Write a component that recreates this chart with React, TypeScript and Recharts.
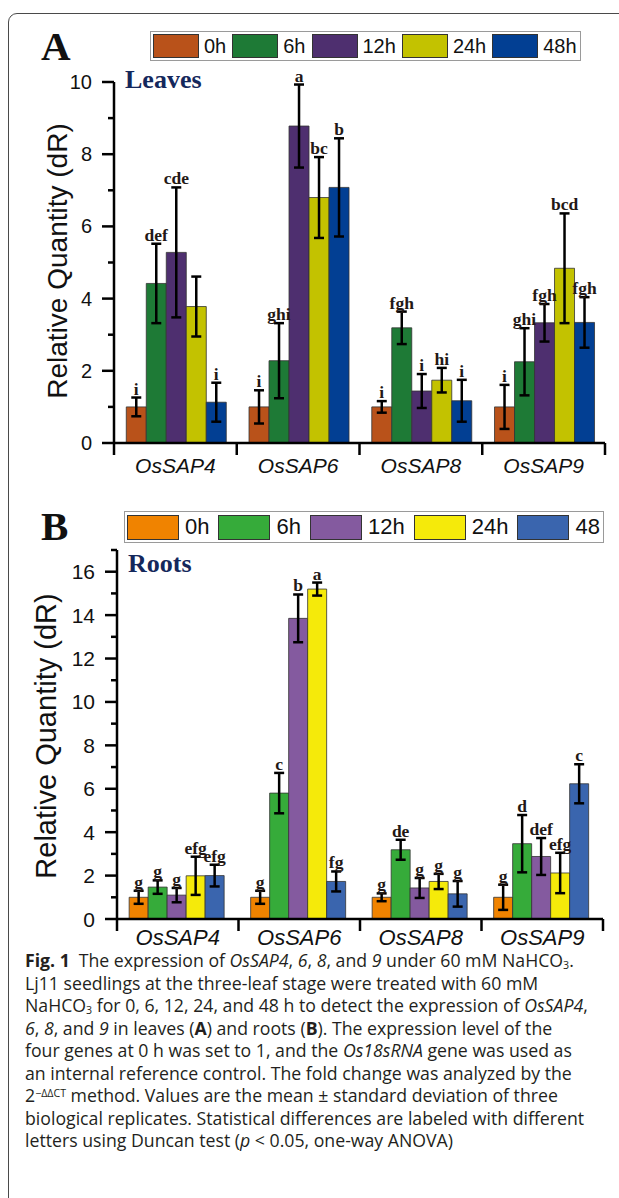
import React from "react";
import { BarChart, Bar, XAxis, YAxis, ErrorBar, LabelList } from "recharts";

const genes = ["OsSAP4", "OsSAP6", "OsSAP8", "OsSAP9"];
const timeKeys = ["t0", "t6", "t12", "t24", "t48"];

// panel A - leaves
const leavesLegend = ["0h", "6h", "12h", "24h", "48h"];
const leavesColors = ["#b9521a", "#1e7a36", "#4e2f6f", "#c3c200", "#023f93"];
const leaves0h = [1.0, 1.0, 1.0, 1.0];
const leaves6h = [4.42, 2.28, 3.19, 2.25];
const leaves12h = [5.28, 8.78, 1.44, 3.33];
const leaves24h = [3.78, 6.8, 1.74, 4.84];
const leaves48h = [1.13, 7.08, 1.17, 3.34];
const leavesErr0h = [0.26, 0.46, 0.16, 0.61];
const leavesErr6h = [1.1, 1.04, 0.45, 0.93];
const leavesErr12h = [1.8, 1.15, 0.47, 0.52];
const leavesErr24h = [0.83, 1.12, 0.34, 1.52];
const leavesErr48h = [0.54, 1.36, 0.58, 0.7];
const leavesLab0h = ["i", "i", "i", "i"];
const leavesLab6h = ["def", "ghi", "fgh", "ghi"];
const leavesLab12h = ["cde", "a", "i", "fgh"];
const leavesLab24h = ["", "bc", "hi", "bcd"];
const leavesLab48h = ["i", "b", "i", "fgh"];
const leavesTicks = [0, 1, 2, 3, 4, 5, 6, 7, 8, 9, 10];

// panel B - roots
const rootsLegend = ["0h", "6h", "12h", "24h", "48"];
const rootsColors = ["#f08300", "#36ab3a", "#845a9f", "#f5ea0a", "#3a65ae"];
const roots0h = [1.0, 1.0, 1.0, 1.0];
const roots6h = [1.47, 5.8, 3.19, 3.47];
const roots12h = [1.1, 13.85, 1.43, 2.88];
const roots24h = [1.99, 15.2, 1.73, 2.12];
const roots48h = [2.0, 1.73, 1.16, 6.23];
const rootsErr0h = [0.3, 0.3, 0.18, 0.58];
const rootsErr6h = [0.31, 0.93, 0.46, 1.32];
const rootsErr12h = [0.33, 1.1, 0.46, 0.85];
const rootsErr24h = [0.88, 0.3, 0.35, 0.93];
const rootsErr48h = [0.5, 0.46, 0.59, 0.9];
const rootsLab0h = ["g", "g", "g", "g"];
const rootsLab6h = ["g", "c", "de", "d"];
const rootsLab12h = ["g", "b", "g", "def"];
const rootsLab24h = ["efg", "a", "g", "efg"];
const rootsLab48h = ["efg", "fg", "g", "c"];
const rootsTicks = [0, 1, 2, 3, 4, 5, 6, 7, 8, 9, 10, 11, 12, 13, 14, 15, 16, 17];

function buildRows(vals: number[][], errs: number[][], labs: string[][]) {
  return genes.map((g, i) => {
    const row: any = { gene: g };
    timeKeys.forEach((k, j) => {
      row[k] = vals[j][i];
      row[k + "Err"] = errs[j][i];
      row[k + "Lab"] = labs[j][i];
    });
    return row;
  });
}

const leavesRows = buildRows(
  [leaves0h, leaves6h, leaves12h, leaves24h, leaves48h],
  [leavesErr0h, leavesErr6h, leavesErr12h, leavesErr24h, leavesErr48h],
  [leavesLab0h, leavesLab6h, leavesLab12h, leavesLab24h, leavesLab48h]
);
const rootsRows = buildRows(
  [roots0h, roots6h, roots12h, roots24h, roots48h],
  [rootsErr0h, rootsErr6h, rootsErr12h, rootsErr24h, rootsErr48h],
  [rootsLab0h, rootsLab6h, rootsLab12h, rootsLab24h, rootsLab48h]
);

const SANS = "'Liberation Sans', Arial, sans-serif";
const SERIF = "'Liberation Serif', 'Times New Roman', serif";

const yTick = (fs: number, labelGap: number) => (p: any) => {
  const { x, y, payload } = p;
  const major = payload.value % 2 === 0;
  return (
    <g>
      <line x1={x - (major ? 12 : 6)} x2={x} y1={y} y2={y} stroke="#000" strokeWidth={2.5} />
      {major && (
        <text x={x - labelGap} y={y} textAnchor="end" dominantBaseline="central" fontSize={fs} fontFamily={SANS} fill="#111">
          {payload.value}
        </text>
      )}
    </g>
  );
};

const xTick = (band: number, fs: number, dy: number) => (p: any) => {
  const { x, y, payload, index } = p;
  return (
    <g>
      <line x1={x - band / 2} x2={x - band / 2} y1={y} y2={y + 12} stroke="#000" strokeWidth={2.5} />
      {index === genes.length - 1 && (
        <line x1={x + band / 2} x2={x + band / 2} y1={y} y2={y + 12} stroke="#000" strokeWidth={2.5} />
      )}
      <text x={x} y={y + dy} textAnchor="middle" fontStyle="italic" fontSize={fs} fontFamily={SANS} fill="#111">
        {payload.value}
      </text>
    </g>
  );
};

const letter = (rows: any[], k: string) => (p: any) => {
  const vb = p.viewBox || p;
  const { x, y, width, height } = vb;
  const row = rows[p.index];
  if (!row || !p.value) return null;
  const perUnit = height / row[k];
  const top = y - row[k + "Err"] * perUnit;
  return (
    <text x={x + width / 2} y={top - 3} textAnchor="middle" fontFamily={SERIF} fontWeight="bold" fontSize={17.5} fill="#231815">
      {p.value}
    </text>
  );
};

function Panel(props: {
  rows: any[];
  colors: string[];
  top: number;
  height: number;
  marginTop: number;
  axisWidth: number;
  marginRight: number;
  xHeight: number;
  domainMax: number;
  ticks: number[];
  tickFs: number;
  catFs: number;
  catDy: number;
  yLabelX: number;
  yLabelY: number;
  yLabelFs: number;
}) {
  const plotW = 619 - props.axisWidth - props.marginRight;
  const band = plotW / genes.length;
  return (
    <div style={{ position: "absolute", left: 0, top: props.top }}>
      <BarChart
        width={619}
        height={props.height}
        data={props.rows}
        margin={{ top: props.marginTop, right: props.marginRight, bottom: 0, left: 0 }}
        barCategoryGap="10%"
        barGap={0}
      >
        <XAxis
          dataKey="gene"
          height={props.xHeight}
          axisLine={{ stroke: "#000", strokeWidth: 2.5 }}
          tickLine={false}
          tickSize={0}
          tickMargin={0}
          interval={0}
          tick={xTick(band, props.catFs, props.catDy)}
        />
        <YAxis
          width={props.axisWidth}
          domain={[0, props.domainMax]}
          ticks={props.ticks}
          interval={0}
          axisLine={{ stroke: "#000", strokeWidth: 2.5 }}
          tickLine={false}
          tickSize={0}
          tickMargin={0}
          tick={yTick(props.tickFs, 22)}
          label={{
            content: () => (
              <text
                x={props.yLabelX}
                y={props.yLabelY}
                transform={`rotate(-90 ${props.yLabelX} ${props.yLabelY})`}
                textAnchor="middle"
                dominantBaseline="central"
                fontSize={props.yLabelFs}
                fontFamily={SANS}
                fill="#111"
              >
                Relative Quantity (dR)
              </text>
            ),
          }}
        />
        {timeKeys.map((k, i) => (
          <Bar key={k} dataKey={k} fill={props.colors[i]} stroke="#333" strokeWidth={0.8} isAnimationActive={false}>
            <ErrorBar dataKey={k + "Err"} width={5} strokeWidth={2.5} stroke="#000" direction="y" />
            <LabelList dataKey={k + "Lab"} content={letter(props.rows, k)} />
          </Bar>
        ))}
      </BarChart>
    </div>
  );
}

function LegendBox(props: {
  labels: string[];
  colors: string[];
  left: number;
  top: number;
  h: number;
  sw: number;
  sh: number;
  fs: number;
  gapL: number;
  gapR: number;
}) {
  return (
    <div
      style={{
        position: "absolute",
        left: props.left,
        top: props.top,
        height: props.h,
        boxSizing: "border-box",
        border: "1px solid #9a9a9a",
        background: "#fff",
        display: "flex",
        alignItems: "center",
        paddingLeft: 2,
        paddingRight: 0,
      }}
    >
      {props.labels.map((l, i) => (
        <div key={l} style={{ display: "flex", alignItems: "center" }}>
          <div
            style={{
              width: props.sw,
              height: props.sh,
              boxSizing: "border-box",
              border: "1px solid #333",
              background: props.colors[i],
            }}
          />
          <span
            style={{
              marginLeft: props.gapL,
              marginRight: i === props.labels.length - 1 ? 3 : props.gapR,
              fontSize: props.fs,
              fontFamily: SANS,
              color: "#111",
              lineHeight: 1,
            }}
          >
            {l}
          </span>
        </div>
      ))}
    </div>
  );
}

const sub = { fontSize: "0.6em", lineHeight: 0, verticalAlign: "-0.18em" } as React.CSSProperties;
const sup = { fontSize: "0.6em", lineHeight: 0, verticalAlign: "0.5em" } as React.CSSProperties;

export default function App() {
  return (
    <div style={{ position: "absolute", left: 0, top: 0, width: 619, height: 1198, overflow: "hidden", background: "#fff" }}>
      <div
        style={{
          position: "absolute",
          left: 8,
          top: 13,
          width: 700,
          height: 1300,
          border: "1.5px solid #4a4a4a",
          borderRadius: 9,
          boxSizing: "border-box",
        }}
      />
      <Panel
        rows={leavesRows}
        colors={leavesColors}
        top={0}
        height={490}
        marginTop={82}
        axisWidth={114}
        marginRight={14}
        xHeight={47}
        domainMax={10}
        ticks={leavesTicks}
        tickFs={20}
        catFs={21}
        catDy={30}
        yLabelX={57}
        yLabelY={261}
        yLabelFs={28}
      />
      <Panel
        rows={rootsRows}
        colors={rootsColors}
        top={495}
        height={455}
        marginTop={55}
        axisWidth={117}
        marginRight={16}
        xHeight={31}
        domainMax={17}
        ticks={rootsTicks}
        tickFs={21}
        catFs={22}
        catDy={26}
        yLabelX={46}
        yLabelY={241}
        yLabelFs={29}
      />
      <LegendBox labels={leavesLegend} colors={leavesColors} left={150} top={31} h={30} sw={46} sh={24} fs={20} gapL={5} gapR={6} />
      <LegendBox labels={rootsLegend} colors={rootsColors} left={124} top={511} h={32} sw={52} sh={25} fs={22} gapL={6} gapR={9} />
      <svg style={{ position: "absolute", left: 0, top: 0, pointerEvents: "none" }} width={619} height={1198}>
        <text x={41} y={60} fontFamily={SERIF} fontWeight="bold" fontSize={41} fill="#111">A</text>
        <text x={41} y={540} fontFamily={SERIF} fontWeight="bold" fontSize={41} fill="#111">B</text>
        <text x={125} y={88} fontFamily={SERIF} fontWeight="bold" fontSize={26} fill="#14285c">Leaves</text>
        <text x={128} y={572} fontFamily={SERIF} fontWeight="bold" fontSize={26} fill="#14285c">Roots</text>
      </svg>
      <div
        style={{
          position: "absolute",
          left: 25,
          top: 949,
          fontFamily: "'Open Sans', sans-serif",
          fontSize: 17.7,
          lineHeight: "22.5px",
          color: "#231f20",
          whiteSpace: "nowrap",
        }}
      >
        <div>
          <b>Fig. 1</b>{"\u2002"}The expression of <i>OsSAP4</i>, <i>6</i>, <i>8</i>, and <i>9</i> under 60 mM NaHCO<span style={sub}>3</span>.
        </div>
        <div>Lj11 seedlings at the three-leaf stage were treated with 60 mM</div>
        <div>
          NaHCO<span style={sub}>3</span> for 0, 6, 12, 24, and 48 h to detect the expression of <i>OsSAP4</i>,
        </div>
        <div>
          <i>6</i>, <i>8</i>, and <i>9</i> in leaves (<b>A</b>) and roots (<b>B</b>). The expression level of the
        </div>
        <div>
          four genes at 0 h was set to 1, and the <i>Os18sRNA</i> gene was used as
        </div>
        <div>an internal reference control. The fold change was analyzed by the</div>
        <div>
          2<span style={sup}>−ΔΔCT</span> method. Values are the mean ± standard deviation of three
        </div>
        <div>biological replicates. Statistical differences are labeled with different</div>
        <div>
          letters using Duncan test (<i>p</i> &lt; 0.05, one-way ANOVA)
        </div>
      </div>
    </div>
  );
}
